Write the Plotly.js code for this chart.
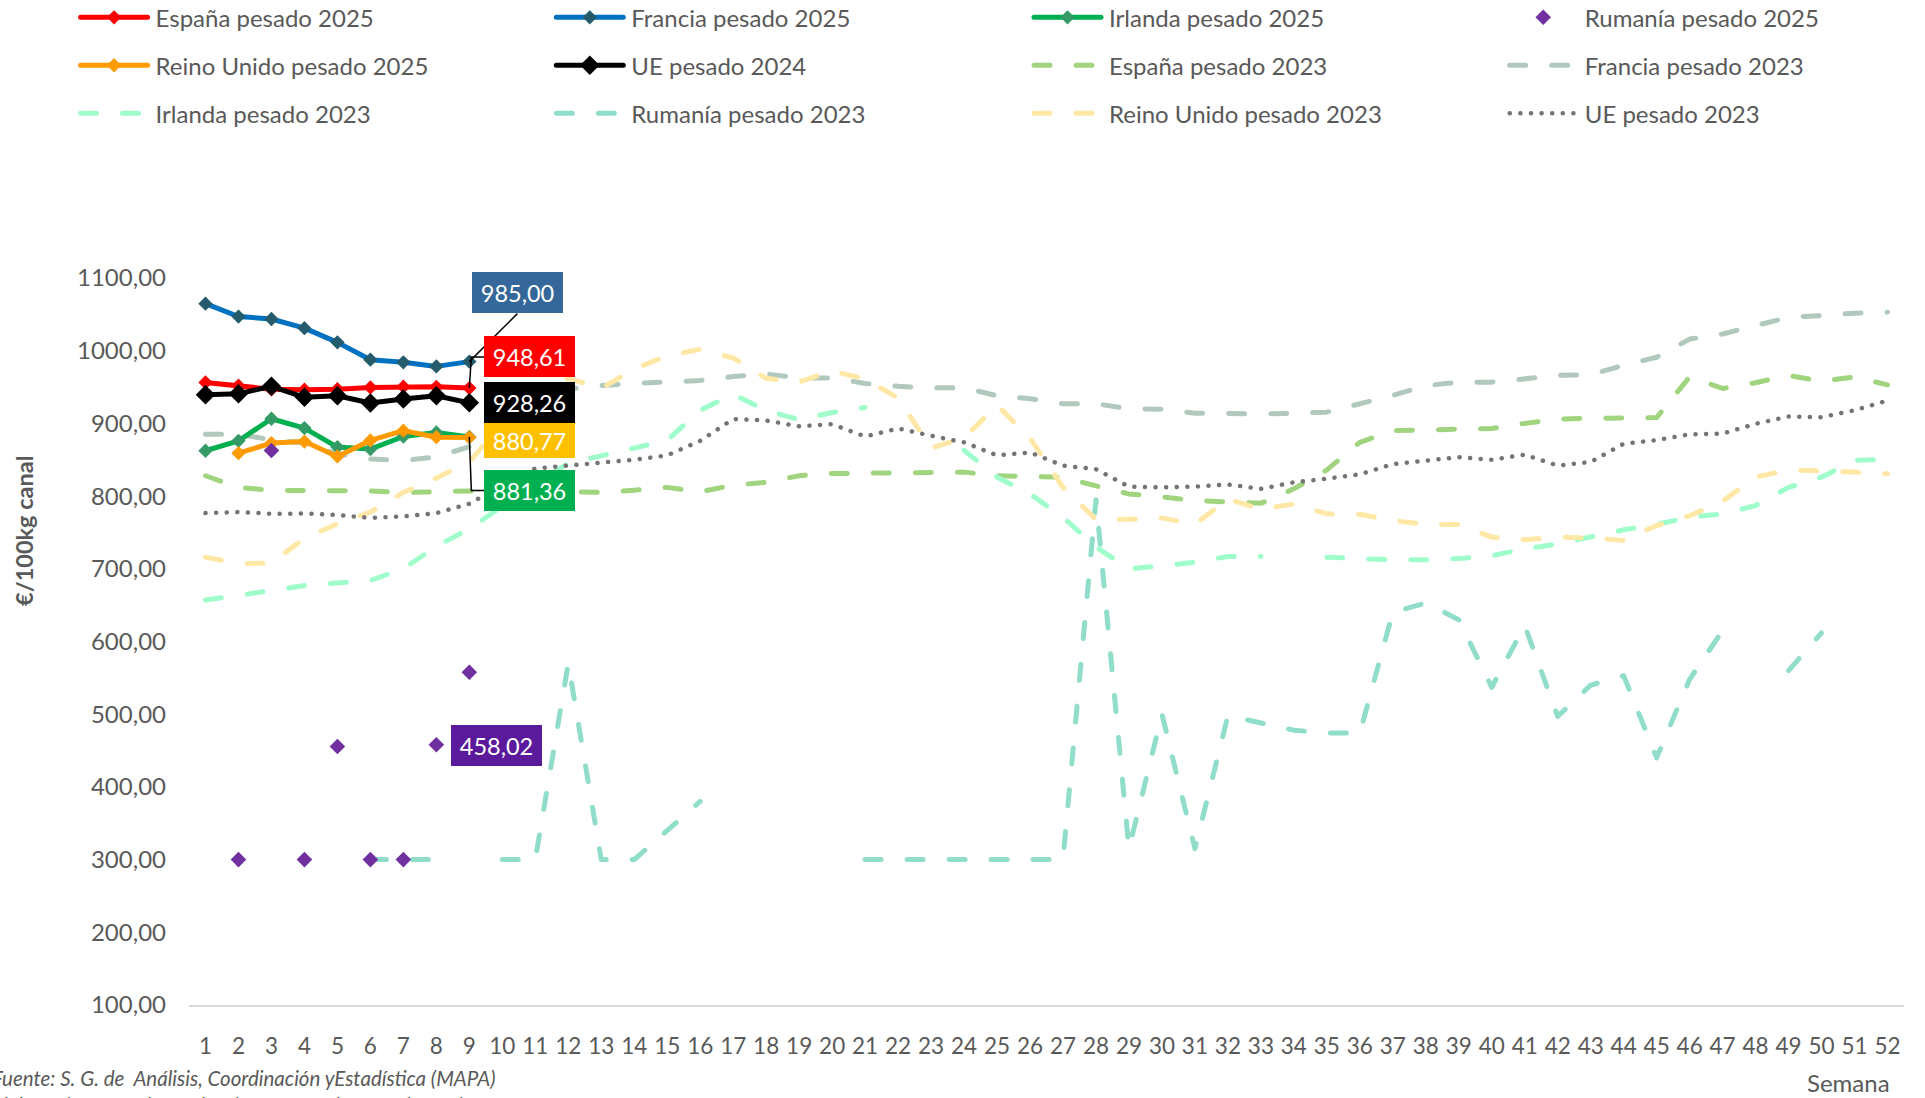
<!DOCTYPE html>
<html><head><meta charset="utf-8">
<script src="https://cdn.plot.ly/plotly-3.0.1.min.js"></script>
<style>
html,body{margin:0;padding:0;background:#fff;}
#chart{width:1925px;height:1098px;}
.js-line{stroke-linecap:round;stroke-linejoin:round;}
</style></head><body><div id="chart"></div><script>
// ---------- DATA ----------
const semanas = [1,2,3,4,5,6,7,8,9,10,11,12,13,14,15,16,17,18,19,20,21,22,23,24,25,26,
  27,28,29,30,31,32,33,34,35,36,37,38,39,40,41,42,43,44,45,46,47,48,49,50,51,52];

const espana2025   = [956.4, 951.8, 947.0, 946.3, 947.0, 949.5, 950.5, 950.3, 948.61];
const francia2025  = [1064.7, 1047.0, 1043.6, 1031.0, 1011.5, 987.6, 984.0, 978.4, 985.00];
const irlanda2025  = [862.4, 876.0, 906.4, 893.6, 867.4, 864.7, 882.0, 887.5, 881.36];
const rumania2025  = [null, 300, 862.8, 300, 455.5, 300, 300, 458.02, 557.8];
const reinoUnido2025 = [null, 859.0, 873.0, 875.0, 854.6, 876.6, 890.0, 881.0, 880.77];
const ue2024       = [939.4, 940.8, 951.0, 935.8, 938.0, 928.0, 933.5, 938.0, 928.26];

const espana2023 = [828, 812, 808, 808, 808, 807, 805, 806, 807, 806, 805, 806, 805, 808, 812, 806,
  815, 819, 828, 831, 831.5, 832, 832, 833, 828, 827, 826, 814, 803, 799, 794, 792, 790, 810, 836,
  874, 890, 891, 892, 893, 900, 906, 907, 907, 908, 964, 948, 956, 966, 958, 964, 953];
const francia2023 = [885, 885, 877.5, 873, 858, 851, 849, 854, 868, 905, 940, 947, 952, 955, 957,
  959, 964.5, 968, 962.6, 962.6, 955, 951, 949, 949, 938, 934, 927, 927, 920, 919.5, 914, 913, 913,
  914, 915.5, 927, 938.5, 952, 956.7, 956.7, 962, 966, 967, 980, 991, 1016, 1023, 1034.6, 1046,
  1048.4, 1051.6, 1053];
const irlanda2023 = [657, 663, 670, 677, 681, 684, 700, 731, 755, 786, 817, 845, 855, 866, 877, 918,
  940, 918, 905, 915, 922, null, null, 863, 826, 803, 771, 730, 700, 704, 709, 717, 717, null, 716,
  714, 712.3, 712.3, 714, 718, 727.5, 734, 744, 753.6, 761, 771, 775.6, 787, 812, 826, 849, 851];
const rumania2023 = [null, null, null, null, null, 300, 300, 300, null, 300, 300, 570, 300, 300,
  340, 380, null, null, null, null, 300, 300, 300, 300, 300, 300, 300, 795, 315, 500, 315, 498,
  488, 478, 474, 474, 640, 653, 630, 537, 622, 497, 540, 553, 440, 548, 615, null, 560, 612,
  null, null];
const reinoUnido2023 = [716, 707, 708, 742, 762, 778, 805, 825, 847, 900, 940, 962, 948, 975, 993,
  1002, 990, 962, 957, 972, 961, 935, 866, 880, 925, 880, 812, 768, 768, 770, 761, 796, 782, 789,
  775.6, 775, 766.4, 761, 761, 743.5, 740, 743.5, 742.6, 739, 759.5, 773, 793, 826, 836, 835, 833,
  830.6];
const ue2023 = [776.6, 778, 775.7, 776, 774, 770, 772, 776.6, 789.5, 815, 838, 842, 846.6, 850, 856,
  876, 906, 904, 896, 899, 882, 893, 883, 874, 856, 860, 842, 837, 813, 812, 813, 816, 810, 819,
  824, 830, 844, 849, 853.5, 850, 857, 842, 847, 872, 877, 885, 886, 899.4, 909.5, 908.6, 918,
  931.5];

const yTicks = [100, 200, 300, 400, 500, 600, 700, 800, 900, 1000, 1100];

// ---------- LAYOUT HELPERS ----------
const FONT = 'Lato, "Open Sans", sans-serif';
const GREY = '#595959';
const W = 1925, H = 1098, L = 188.5, R = 20.5, T = 277.5, B = 93;
const pw = W - L - R, ph = H - T - B;
const px2x = p => (p - L) / pw;
const px2y = p => (H - B - p) / ph;
const fmt = v => v.toFixed(2).replace('.', ',');

const legendCols = [75, 551, 1029, 1505];
const legendRows = [17, 65, 113];
const legName = i => i === 0 ? 'legend' : 'legend' + (i + 1);
const pad = s => '\u2009' + s;

const DASH = '16px,26px';
function s2025(name, y, lineColor, markerColor, msize, li) {
  return {type:'scatter', mode:'lines+markers', name: pad(name), x: semanas.slice(0, y.length), y,
    line:{color:lineColor, width:5}, marker:{symbol:'diamond', size:msize, color:markerColor},
    legend: legName(li), connectgaps:false, hoverinfo:'skip'};
}
function s2023(name, y, color, li, dash, width) {
  return {type:'scatter', mode:'lines', name: pad(name), x: semanas, y,
    line:{color, width: width || 5, dash: dash || DASH}, legend: legName(li),
    connectgaps:false, hoverinfo:'skip'};
}

const traces = [
  s2023('España pesado 2023', espana2023, '#A1D47F', 6),
  s2023('Francia pesado 2023', francia2023, '#B1C9BD', 7),
  s2023('Irlanda pesado 2023', irlanda2023, '#9FFDCB', 8),
  s2023('Rumanía pesado 2023', rumania2023, '#90DDC9', 9),
  s2023('Reino Unido pesado 2023', reinoUnido2023, '#FFE8A6', 10),
  s2023('UE pesado 2023', ue2023, '#777373', 11, '0.1px,10.5px', 4.5),
  s2025('Irlanda pesado 2025', irlanda2025, '#00B050', '#349A66', 11, 2),
  s2025('Reino Unido pesado 2025', reinoUnido2025, '#FF9A00', '#FF9A00', 11, 4),
  s2025('España pesado 2025', espana2025, '#FF0000', '#FF0000', 11, 0),
  s2025('UE pesado 2024', ue2024, '#000000', '#000000', 15, 5),
  s2025('Francia pesado 2025', francia2025, '#0070C0', '#255C6C', 11, 1),
  {type:'scatter', mode:'markers', name: pad('Rumanía pesado 2025'), x: semanas.slice(0, rumania2025.length),
    y: rumania2025, marker:{symbol:'diamond', size:12, color:'#7030A0'}, legend: legName(3),
    hoverinfo:'skip'}
];

const layout = {
  width: W, height: H,
  margin: {l: L, r: R, t: T, b: B, autoexpand: false},
  paper_bgcolor: '#ffffff', plot_bgcolor: '#ffffff',
  separators: ',.',
  font: {family: FONT, color: GREY, size: 22},
  showlegend: true,
  xaxis: {range: [0.5, 52.5], tickvals: semanas, ticktext: semanas.map(String), showgrid: false,
    zeroline: false, showline: true, linecolor: '#D9D9D9', linewidth: 2, ticks: '',
    ticklabelstandoff: 20, tickfont: {family: FONT, size: 22.5, color: GREY}, fixedrange: true},
  yaxis: {range: [100, 1100], tickvals: yTicks, tickformat: '.2f', showgrid: false, zeroline: false,
    showline: false, ticks: '', ticklabelstandoff: 22, tickfont: {family: FONT, size: 24, color: GREY},
    fixedrange: true},
  annotations: [],
  shapes: []
};

for (let i = 0; i < 12; i++) {
  layout[legName(i)] = {
    x: px2x(legendCols[i % 4]), xanchor: 'left',
    y: px2y(legendRows[Math.floor(i / 4)]), yanchor: 'middle',
    orientation: 'v', bgcolor: 'rgba(0,0,0,0)', borderwidth: 0,
    font: {family: FONT, size: 24, color: GREY}, itemwidth: 67
  };
}

// data labels
const lab = (x, y, xs, ys, bg, h) => ({
  xref: 'x', yref: 'y', x, y, xshift: xs, yshift: ys, text: fmt(y), showarrow: false,
  bgcolor: bg, width: 91, height: h || 41, borderpad: 0, borderwidth: 0,
  font: {family: FONT, size: 23.5, color: '#ffffff'}, xanchor: 'center', yanchor: 'middle'
});
const n = 9;
layout.annotations.push(
  lab(semanas[n-1], francia2025[n-1], 48.3, 68.8, '#35679A'),
  lab(semanas[n-1], espana2025[n-1], 60.4, 31.2, '#FF0000'),
  lab(semanas[n-1], reinoUnido2025[n-1], 60.4, -3, '#FFC000', 35),
  lab(semanas[n-1], ue2024[n-1], 60.4, 0, '#000000'),
  lab(semanas[n-1], irlanda2025[n-1], 60.4, -53.8, '#00B050'),
  lab(semanas[7], rumania2025[7], 60.5, -1, '#5A1A9B')
);

// leader lines (pixel offsets from the data point)
const leader = (x, y, path) => ({type: 'path', xref: 'x', yref: 'y', xsizemode: 'pixel',
  ysizemode: 'pixel', xanchor: x, yanchor: y, path, line: {color: '#000000', width: 1.5}});
layout.shapes.push(
  leader(semanas[n-1], francia2025[n-1], 'M0,0 L48,48'),
  leader(semanas[n-1], espana2025[n-1], 'M0,0 L2,31 L15,31'),
  leader(semanas[n-1], irlanda2025[n-1], 'M0,0 L2,-53.5 L15,-53.5')
);

// axis titles and notes
layout.annotations.push(
  {xref: 'paper', yref: 'paper', x: px2x(24), y: px2y(531), text: '<b>€/100kg canal</b>',
    textangle: -90, showarrow: false, xanchor: 'center', yanchor: 'middle',
    font: {family: FONT, size: 23.5, color: GREY}},
  {xref: 'paper', yref: 'paper', x: px2x(1849), y: px2y(1083), text: 'Semana', showarrow: false,
    xanchor: 'center', yanchor: 'middle', font: {family: FONT, size: 24, color: GREY}},
  {xref: 'paper', yref: 'paper', x: px2x(-11), y: px2y(1064), xanchor: 'left', yanchor: 'top',
    align: 'left', showarrow: false,
    text: '<i>Fuente: S. G. de\u00a0 Análisis, Coordinación yEstadística (MAPA)</i><br><i>Elaboración: S.G. de Producciones Ganaderas y Cinegéticas</i>',
    font: {family: FONT, size: 20.5, color: GREY}}
);

Plotly.newPlot('chart', traces, layout, {displayModeBar: false, staticPlot: true});
</script></body></html>
